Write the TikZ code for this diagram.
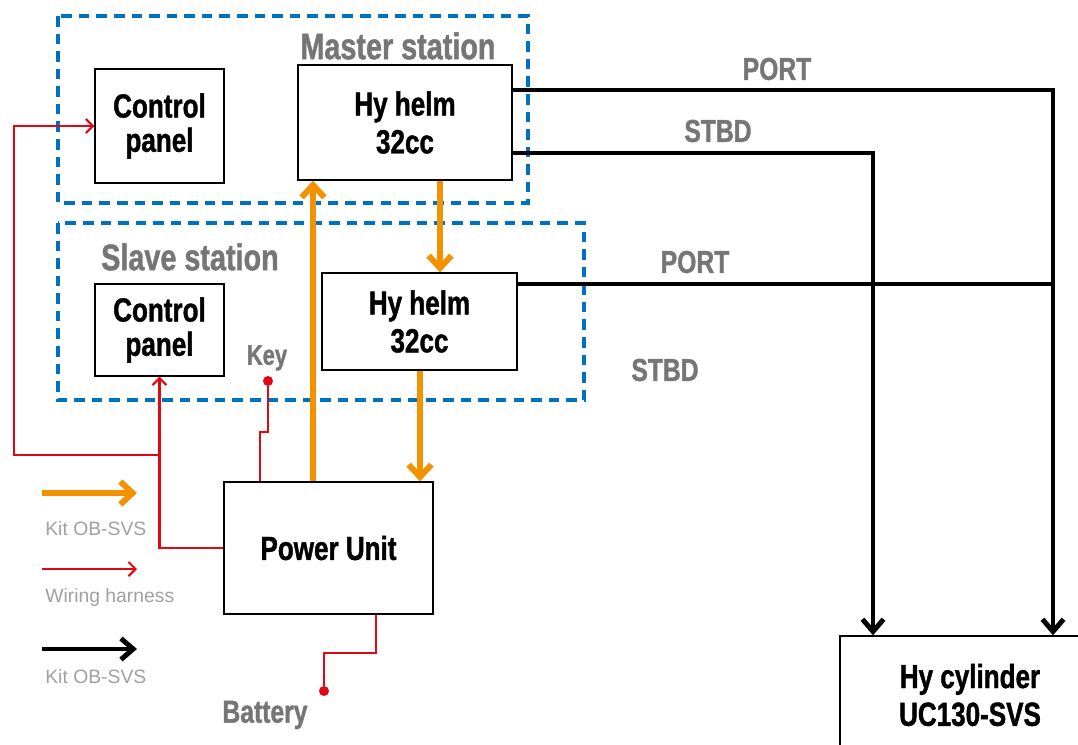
\documentclass[tikz,border=0pt]{standalone}
\usepackage{fontspec}
\setmainfont{Liberation Sans}
\newfontfamily\impact[FakeStretch=0.78, BoldFeatures={FakeBold=1.2}]{Liberation Sans}
\usetikzlibrary{arrows.meta}

\definecolor{stationblue}{HTML}{0070C0}
\definecolor{kitorange}{HTML}{F39200}
\definecolor{wirered}{HTML}{E30613}
\definecolor{labelgrey}{HTML}{767676}
\definecolor{legendgrey}{HTML}{A0A0A0}

\tikzset{
  box/.style={draw, line width=0.8pt, inner sep=0pt, align=center,
    font=\impact\bfseries\fontsize{19}{19.5}\selectfont},
  station/.style={draw=stationblue, line width=2pt, dash pattern=on 6pt off 4pt},
  stationlabel/.style={text=labelgrey, font=\impact\bfseries\fontsize{21}{21}\selectfont},
  sidelabel/.style={text=labelgrey, font=\impact\bfseries\fontsize{18}{18}\selectfont},
  legendlabel/.style={text=legendgrey, anchor=west, inner sep=0pt, font=\fontsize{11}{11}\selectfont},
  hose/.style={draw=kitorange, line width=3.4pt, -{Straight Barb[length=7pt,width=13pt]}},
  wire/.style={draw=wirered, line width=1.2pt},
  wirearrow/.style={wire, -{Straight Barb[length=4pt,width=8pt]}},
  pipe/.style={draw, line width=2.8pt},
  pipearrow/.style={pipe, -{Straight Barb[length=7pt,width=12pt]}},
  dot/.style={circle, fill=wirered, inner sep=0pt, minimum size=0.2cm}
}

\begin{document}
\begin{tikzpicture}[x=0.02cm, y=-0.02cm]
    \clip (0,0) rectangle (1078,744);

    % Stations
    \draw[station] (58,16) rectangle (528,203);
    \draw[station] (58,223) rectangle (584,400);
    \node[stationlabel] (mlabel) at (398,46) {Master station};
    \node[stationlabel] (slabel) at (190,257) {Slave station};

    % Units
    \node[box, minimum width=2.58cm, minimum height=2.28cm] (mpanel) at (159.5,126) {Control\\panel};
    \node[box, minimum width=4.28cm, minimum height=2.3cm] (mhelm) at (405,122.5) {Hy helm\\[2pt]32cc};
    \node[box, minimum width=2.58cm, minimum height=1.84cm] (spanel) at (159.5,330) {Control\\panel};
    \node[box, minimum width=3.9cm, minimum height=1.94cm] (shelm) at (419.5,321.5) {Hy helm\\[2pt]32cc};
    \node[box, minimum width=4.18cm, minimum height=2.64cm] (pu) at (328.5,548) {Power Unit};
    \node[box, minimum width=5.2cm, minimum height=2.36cm] (cyl) at (970,695) {Hy cylinder\\[2pt]UC130-SVS};

    % Kit OB-SVS hoses
    \coordinate (uphose) at (313,300);
    \coordinate (midhose) at (440,230);
    \coordinate (downhose) at (420,430);
    \draw[hose] (pu.north -| uphose) -- (mhelm.south -| uphose);
    \draw[hose] (mhelm.south -| midhose) -- (shelm.north -| midhose);
    \draw[hose] (shelm.south -| downhose) -- (pu.north -| downhose);

    % Pipes to cylinder
    \coordinate (portA) at (1053,90);
    \coordinate (stbdA) at (873,153);
    \coordinate (portB) at (1053,284);
    \draw[pipearrow] (mhelm.east |- portA) -- (portA) -- (portA |- cyl.north);
    \draw[pipearrow] (mhelm.east |- stbdA) -- (stbdA) -- (stbdA |- cyl.north);
    \draw[pipe] (shelm.east |- portB) -- (portB);
    \node[sidelabel] (port1) at (777,69) {PORT};
    \node[sidelabel] (stbd1) at (718,131) {STBD};
    \node[sidelabel] (port2) at (695,262) {PORT};
    \node[sidelabel] (stbd2) at (665,370) {STBD};

    % Wiring harness
    \coordinate (junc) at (160,455);
    \coordinate (loop) at (14,455);
    \draw[wirearrow] (pu.west) -| (spanel.south);
    \draw[wirearrow] (junc) -- (loop) |- (mpanel.west);
    \node[dot] (keydot) at (268,381) {};
    \node[sidelabel, font=\impact\bfseries\fontsize{16}{16}\selectfont] (key) at (267,358) {Key};
    \coordinate (keybend) at (260,432);
    \draw[wire] (keydot) |- (keybend) -- (keybend |- pu.north);
    \node[dot] (batdot) at (324,691) {};
    \node[sidelabel] (battery) at (265,715) {Battery};
    \coordinate (batbend) at (376,653);
    \draw[wire] (batbend |- pu.south) -- (batbend) -| (batdot);

    % Legend
    \coordinate (leg1a) at (42,493);
    \coordinate (leg1b) at (137,493);
    \coordinate (leg2a) at (42,569);
    \coordinate (leg2b) at (137,569);
    \coordinate (leg3a) at (42,649);
    \coordinate (leg3b) at (137,649);
    \draw[hose] (leg1a) -- (leg1b);
    \node[legendlabel] (leg1) at (45,529) {Kit OB-SVS};
    \draw[wirearrow] (leg2a) -- (leg2b);
    \node[legendlabel] (leg2) at (45,597) {Wiring harness};
    \draw[pipearrow] (leg3a) -- (leg3b);
    \node[legendlabel] (leg3) at (45,677) {Kit OB-SVS};
\end{tikzpicture}
\end{document}
